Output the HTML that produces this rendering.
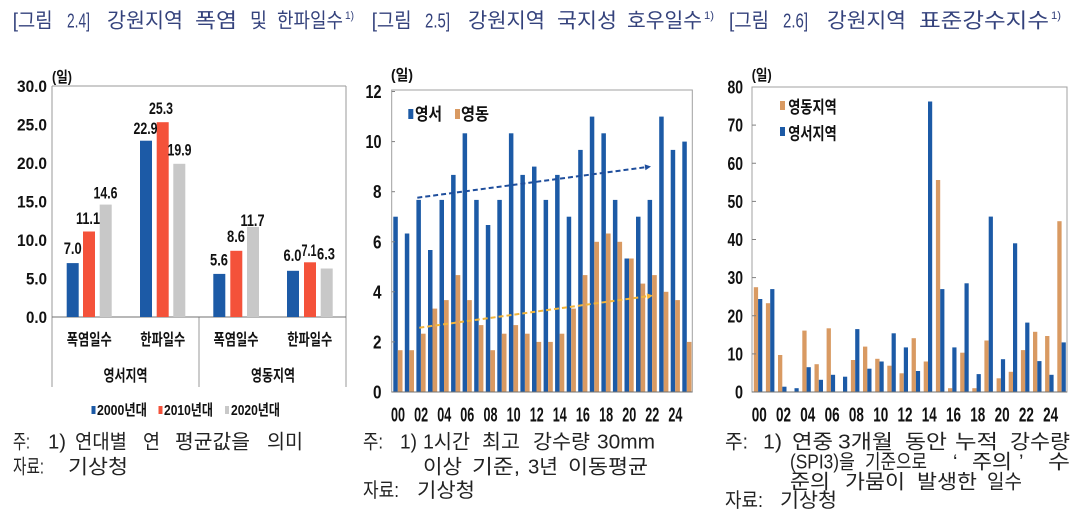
<!DOCTYPE html>
<html><head><meta charset="utf-8"><style>
html,body{margin:0;padding:0;background:#fff;}
svg{display:block;}
.t{font-family:"Liberation Sans","Noto Sans CJK KR",sans-serif;font-size:20.5px;fill:#34427c;}
.ts{font-family:"Liberation Sans","Noto Sans CJK KR",sans-serif;font-size:11px;fill:#34427c;}
.n{font-family:"Liberation Sans","Noto Sans CJK KR",sans-serif;font-size:20px;fill:#222;}
.b{font-family:"Liberation Sans Narrow","Liberation Sans","Noto Sans CJK KR",sans-serif;font-weight:bold;fill:#111;}
</style></head><body>
<svg width="1080" height="520" viewBox="0 0 1080 520" xmlns="http://www.w3.org/2000/svg">
<rect width="1080" height="520" fill="#fff"/>
<!-- Titles -->
<g class="t">
<text x="12.7" y="27.5" textLength="40" lengthAdjust="spacingAndGlyphs">[그림</text>
<text x="67" y="27.5" textLength="23" lengthAdjust="spacingAndGlyphs">2.4]</text>
<text x="107" y="27.5" textLength="76" lengthAdjust="spacingAndGlyphs">강원지역</text>
<text x="195" y="27.5" textLength="42" lengthAdjust="spacingAndGlyphs">폭염</text>
<text x="250" y="27.5" textLength="17" lengthAdjust="spacingAndGlyphs">및</text>
<text x="277" y="27.5" textLength="66" lengthAdjust="spacingAndGlyphs">한파일수</text>
<text x="371.7" y="27.5" textLength="40" lengthAdjust="spacingAndGlyphs">[그림</text>
<text x="425" y="27.5" textLength="25" lengthAdjust="spacingAndGlyphs">2.5]</text>
<text x="468" y="27.5" textLength="77" lengthAdjust="spacingAndGlyphs">강원지역</text>
<text x="557" y="27.5" textLength="60" lengthAdjust="spacingAndGlyphs">국지성</text>
<text x="627" y="27.5" textLength="75" lengthAdjust="spacingAndGlyphs">호우일수</text>
<text x="729" y="27.5" textLength="40" lengthAdjust="spacingAndGlyphs">[그림</text>
<text x="783" y="27.5" textLength="25" lengthAdjust="spacingAndGlyphs">2.6]</text>
<text x="827" y="27.5" textLength="79" lengthAdjust="spacingAndGlyphs">강원지역</text>
<text x="919" y="27.5" textLength="130" lengthAdjust="spacingAndGlyphs">표준강수지수</text>
</g>
<g class="ts">
<text x="345" y="19" textLength="9" lengthAdjust="spacingAndGlyphs">1)</text>
<text x="704" y="19" textLength="10" lengthAdjust="spacingAndGlyphs">1)</text>
<text x="1051" y="19" textLength="10" lengthAdjust="spacingAndGlyphs">1)</text>
</g>

<!-- ============ Chart 1 ============ -->
<g stroke="#9a9a9a" stroke-width="1" fill="none">
<line x1="52" y1="86" x2="346" y2="86"/>
<line x1="52" y1="86" x2="52" y2="387"/>
<line x1="346" y1="86" x2="346" y2="387"/>
<line x1="199" y1="317" x2="199" y2="387"/>
</g>
<line x1="52" y1="317" x2="346" y2="317" stroke="#707070" stroke-width="1"/>
<g>
<rect x="66.7" y="263.1" width="12" height="53.9" fill="#1c5aa6"/>
<rect x="83" y="231.5" width="12" height="85.5" fill="#f4523a"/>
<rect x="99.7" y="204.6" width="12" height="112.4" fill="#c8c8c8"/>
<rect x="140" y="140.7" width="12" height="176.3" fill="#1c5aa6"/>
<rect x="156.7" y="122.2" width="12" height="194.8" fill="#f4523a"/>
<rect x="173.3" y="163.8" width="12" height="153.2" fill="#c8c8c8"/>
<rect x="213.3" y="273.9" width="12" height="43.1" fill="#1c5aa6"/>
<rect x="230.3" y="250.8" width="12" height="66.2" fill="#f4523a"/>
<rect x="247" y="226.9" width="12" height="90.1" fill="#c8c8c8"/>
<rect x="287" y="270.8" width="12" height="46.2" fill="#1c5aa6"/>
<rect x="304" y="262.3" width="12" height="54.7" fill="#f4523a"/>
<rect x="320.7" y="268.5" width="12" height="48.5" fill="#c8c8c8"/>
</g>
<g class="b" font-size="17">
<text x="63.7" y="254" textLength="18" lengthAdjust="spacingAndGlyphs">7.0</text>
<text x="76" y="224" textLength="24" lengthAdjust="spacingAndGlyphs">11.1</text>
<text x="93.5" y="198.7" textLength="24" lengthAdjust="spacingAndGlyphs">14.6</text>
<text x="133.5" y="134" textLength="24" lengthAdjust="spacingAndGlyphs">22.9</text>
<text x="149" y="114" textLength="24" lengthAdjust="spacingAndGlyphs">25.3</text>
<text x="167.5" y="155.3" textLength="24" lengthAdjust="spacingAndGlyphs">19.9</text>
<text x="210" y="265.3" textLength="18" lengthAdjust="spacingAndGlyphs">5.6</text>
<text x="227" y="242" textLength="18" lengthAdjust="spacingAndGlyphs">8.6</text>
<text x="240.5" y="226" textLength="24" lengthAdjust="spacingAndGlyphs">11.7</text>
<text x="283.5" y="261" textLength="18" lengthAdjust="spacingAndGlyphs">6.0</text>
<text x="301.5" y="256" textLength="15" lengthAdjust="spacingAndGlyphs">7.1</text>
<text x="317" y="259.3" textLength="18" lengthAdjust="spacingAndGlyphs">6.3</text>
</g>
<g class="b" font-size="17">
<text x="17" y="92" textLength="30" lengthAdjust="spacingAndGlyphs">30.0</text>
<text x="17" y="130.5" textLength="30" lengthAdjust="spacingAndGlyphs">25.0</text>
<text x="17" y="169" textLength="30" lengthAdjust="spacingAndGlyphs">20.0</text>
<text x="17" y="207.5" textLength="30" lengthAdjust="spacingAndGlyphs">15.0</text>
<text x="17" y="246" textLength="30" lengthAdjust="spacingAndGlyphs">10.0</text>
<text x="26" y="284.5" textLength="21" lengthAdjust="spacingAndGlyphs">5.0</text>
<text x="26" y="323" textLength="21" lengthAdjust="spacingAndGlyphs">0.0</text>
</g>
<text class="b" font-size="15" x="52" y="82" textLength="20" lengthAdjust="spacingAndGlyphs">(일)</text>
<g class="b" font-size="16">
<text x="66.8" y="345" textLength="45" lengthAdjust="spacingAndGlyphs">폭염일수</text>
<text x="140.3" y="345" textLength="45" lengthAdjust="spacingAndGlyphs">한파일수</text>
<text x="213.5" y="345" textLength="45" lengthAdjust="spacingAndGlyphs">폭염일수</text>
<text x="287.3" y="345" textLength="45" lengthAdjust="spacingAndGlyphs">한파일수</text>
<text x="103.5" y="381" textLength="44" lengthAdjust="spacingAndGlyphs">영서지역</text>
<text x="251" y="381" textLength="44" lengthAdjust="spacingAndGlyphs">영동지역</text>
</g>
<rect x="91.5" y="406" width="4" height="8" fill="#1c5aa6"/>
<rect x="158.5" y="406" width="4" height="8" fill="#f4523a"/>
<rect x="225" y="406" width="4" height="8" fill="#c8c8c8"/>
<g class="b" font-size="15">
<text x="97" y="415" textLength="50" lengthAdjust="spacingAndGlyphs">2000년대</text>
<text x="164" y="415" textLength="49" lengthAdjust="spacingAndGlyphs">2010년대</text>
<text x="231" y="415" textLength="49" lengthAdjust="spacingAndGlyphs">2020년대</text>
</g>
<g class="n">
<text x="13" y="448.5" textLength="17" lengthAdjust="spacingAndGlyphs">주:</text>
<text x="48" y="448.5" textLength="18" lengthAdjust="spacingAndGlyphs">1)</text>
<text x="75" y="448.5" textLength="52" lengthAdjust="spacingAndGlyphs">연대별</text>
<text x="143" y="448.5" textLength="17" lengthAdjust="spacingAndGlyphs">연</text>
<text x="175" y="448.5" textLength="75" lengthAdjust="spacingAndGlyphs">평균값을</text>
<text x="267" y="448.5" textLength="36" lengthAdjust="spacingAndGlyphs">의미</text>
<text x="13" y="473.5" textLength="31" lengthAdjust="spacingAndGlyphs">자료:</text>
<text x="68" y="473.5" textLength="60" lengthAdjust="spacingAndGlyphs">기상청</text>
</g>

<!-- ============ Chart 2 ============ -->
<rect x="391.7" y="90" width="300.6" height="302" fill="none" stroke="#a0a0a0" stroke-width="1"/>
<g fill="#1c5aa6">
<rect x="393.3" y="216.7" width="4.5" height="175.3"/>
<rect x="404.8" y="233.5" width="4.5" height="158.5"/>
<rect x="416.4" y="199.9" width="4.5" height="192.1"/>
<rect x="428.0" y="250.0" width="4.5" height="142"/>
<rect x="439.5" y="199.9" width="4.5" height="192.1"/>
<rect x="451.1" y="174.9" width="4.5" height="217.1"/>
<rect x="462.6" y="133.3" width="4.5" height="258.7"/>
<rect x="474.2" y="199.9" width="4.5" height="192.1"/>
<rect x="485.8" y="225.0" width="4.5" height="167"/>
<rect x="497.3" y="199.9" width="4.5" height="192.1"/>
<rect x="508.9" y="133.3" width="4.5" height="258.7"/>
<rect x="520.4" y="174.9" width="4.5" height="217.1"/>
<rect x="532.0" y="166.6" width="4.5" height="225.4"/>
<rect x="543.6" y="199.9" width="4.5" height="192.1"/>
<rect x="555.1" y="174.9" width="4.5" height="217.1"/>
<rect x="566.7" y="216.7" width="4.5" height="175.3"/>
<rect x="578.2" y="149.9" width="4.5" height="242.1"/>
<rect x="589.8" y="116.6" width="4.5" height="275.4"/>
<rect x="601.4" y="133.3" width="4.5" height="258.7"/>
<rect x="612.9" y="199.9" width="4.5" height="192.1"/>
<rect x="624.5" y="258.5" width="4.5" height="133.5"/>
<rect x="636.0" y="216.7" width="4.5" height="175.3"/>
<rect x="647.6" y="199.9" width="4.5" height="192.1"/>
<rect x="659.2" y="116.6" width="4.5" height="275.4"/>
<rect x="670.7" y="149.9" width="4.5" height="242.1"/>
<rect x="682.3" y="141.6" width="4.5" height="250.4"/>
</g>
<g fill="#d99a62">
<rect x="397.8" y="350.2" width="4.7" height="41.8"/>
<rect x="409.3" y="350.2" width="4.7" height="41.8"/>
<rect x="420.9" y="333.7" width="4.7" height="58.3"/>
<rect x="432.5" y="308.6" width="4.7" height="83.4"/>
<rect x="444.0" y="300.1" width="4.7" height="91.9"/>
<rect x="455.6" y="275.1" width="4.7" height="116.9"/>
<rect x="467.1" y="300.1" width="4.7" height="91.9"/>
<rect x="478.7" y="325.1" width="4.7" height="66.9"/>
<rect x="490.3" y="350.2" width="4.7" height="41.8"/>
<rect x="501.8" y="333.7" width="4.7" height="58.3"/>
<rect x="513.4" y="325.1" width="4.7" height="66.9"/>
<rect x="524.9" y="333.7" width="4.7" height="58.3"/>
<rect x="536.5" y="341.9" width="4.7" height="50.1"/>
<rect x="548.1" y="341.9" width="4.7" height="50.1"/>
<rect x="559.6" y="333.7" width="4.7" height="58.3"/>
<rect x="571.2" y="308.6" width="4.7" height="83.4"/>
<rect x="582.7" y="275.1" width="4.7" height="116.9"/>
<rect x="594.3" y="241.8" width="4.7" height="150.2"/>
<rect x="605.9" y="233.5" width="4.7" height="158.5"/>
<rect x="617.4" y="241.8" width="4.7" height="150.2"/>
<rect x="629.0" y="258.5" width="4.7" height="133.5"/>
<rect x="640.5" y="283.6" width="4.7" height="108.4"/>
<rect x="652.1" y="275.1" width="4.7" height="116.9"/>
<rect x="663.7" y="291.8" width="4.7" height="100.2"/>
<rect x="675.2" y="300.1" width="4.7" height="91.9"/>
<rect x="686.8" y="341.9" width="4.7" height="50.1"/>
</g>
<line x1="391.7" y1="392" x2="692.3" y2="392" stroke="#707070" stroke-width="1"/>
<g stroke="#808080" stroke-width="1">
<line x1="391.7" y1="91.5" x2="395" y2="91.5"/><line x1="391.7" y1="141.6" x2="395" y2="141.6"/>
<line x1="391.7" y1="191.7" x2="395" y2="191.7"/><line x1="391.7" y1="241.8" x2="395" y2="241.8"/>
<line x1="391.7" y1="291.8" x2="395" y2="291.8"/><line x1="391.7" y1="341.9" x2="395" y2="341.9"/>
</g>
<line x1="417.3" y1="197.7" x2="645" y2="167.3" stroke="#1f4e9c" stroke-width="2" stroke-dasharray="5,3"/>
<polygon points="651,166.5 645.45,170.26 644.65,164.32" fill="#1f4e9c"/>
<line x1="419.3" y1="327.7" x2="647" y2="296.3" stroke="#f2b53a" stroke-width="2" stroke-dasharray="5,3"/>
<polygon points="653,295.5 647.47,299.29 646.65,293.35" fill="#f2b53a"/>
<g class="b" font-size="18">
<text x="365.5" y="98" textLength="16" lengthAdjust="spacingAndGlyphs">12</text>
<text x="365.5" y="148.1" textLength="16" lengthAdjust="spacingAndGlyphs">10</text>
<text x="373" y="198.2" textLength="8.5" lengthAdjust="spacingAndGlyphs">8</text>
<text x="373" y="248.3" textLength="8.5" lengthAdjust="spacingAndGlyphs">6</text>
<text x="373" y="298.3" textLength="8.5" lengthAdjust="spacingAndGlyphs">4</text>
<text x="373" y="348.4" textLength="8.5" lengthAdjust="spacingAndGlyphs">2</text>
<text x="373" y="398.5" textLength="8.5" lengthAdjust="spacingAndGlyphs">0</text>
</g>
<text class="b" font-size="15" x="391" y="80" textLength="22" lengthAdjust="spacingAndGlyphs">(일)</text>
<g class="b" font-size="20">
<text x="391" y="421.5" textLength="14" lengthAdjust="spacingAndGlyphs">00</text>
<text x="414.1" y="421.5" textLength="14" lengthAdjust="spacingAndGlyphs">02</text>
<text x="437.2" y="421.5" textLength="14" lengthAdjust="spacingAndGlyphs">04</text>
<text x="460.3" y="421.5" textLength="14" lengthAdjust="spacingAndGlyphs">06</text>
<text x="483.5" y="421.5" textLength="14" lengthAdjust="spacingAndGlyphs">08</text>
<text x="506.6" y="421.5" textLength="14" lengthAdjust="spacingAndGlyphs">10</text>
<text x="529.7" y="421.5" textLength="14" lengthAdjust="spacingAndGlyphs">12</text>
<text x="552.8" y="421.5" textLength="14" lengthAdjust="spacingAndGlyphs">14</text>
<text x="575.9" y="421.5" textLength="14" lengthAdjust="spacingAndGlyphs">16</text>
<text x="599.1" y="421.5" textLength="14" lengthAdjust="spacingAndGlyphs">18</text>
<text x="622.2" y="421.5" textLength="14" lengthAdjust="spacingAndGlyphs">20</text>
<text x="645.3" y="421.5" textLength="14" lengthAdjust="spacingAndGlyphs">22</text>
<text x="668.4" y="421.5" textLength="14" lengthAdjust="spacingAndGlyphs">24</text>
</g>
<rect x="408.3" y="109" width="5" height="10" fill="#1c5aa6"/>
<rect x="455" y="109" width="5" height="10" fill="#d99a62"/>
<g class="b" font-size="17">
<text x="415" y="120" textLength="27" lengthAdjust="spacingAndGlyphs">영서</text>
<text x="461" y="120" textLength="28" lengthAdjust="spacingAndGlyphs">영동</text>
</g>
<g class="n">
<text x="363" y="448.5" textLength="20" lengthAdjust="spacingAndGlyphs">주:</text>
<text x="400" y="448.5" textLength="17" lengthAdjust="spacingAndGlyphs">1)</text>
<text x="423" y="448.5" textLength="47" lengthAdjust="spacingAndGlyphs">1시간</text>
<text x="482" y="448.5" textLength="38" lengthAdjust="spacingAndGlyphs">최고</text>
<text x="533" y="448.5" textLength="57" lengthAdjust="spacingAndGlyphs">강수량</text>
<text x="597" y="448.5" textLength="58" lengthAdjust="spacingAndGlyphs">30mm</text>
<text x="423" y="473.5" textLength="39" lengthAdjust="spacingAndGlyphs">이상</text>
<text x="472" y="473.5" textLength="48" lengthAdjust="spacingAndGlyphs">기준,</text>
<text x="528" y="473.5" textLength="30" lengthAdjust="spacingAndGlyphs">3년</text>
<text x="568" y="473.5" textLength="80" lengthAdjust="spacingAndGlyphs">이동평균</text>
<text x="363" y="497" textLength="36" lengthAdjust="spacingAndGlyphs">자료:</text>
<text x="417" y="497" textLength="58" lengthAdjust="spacingAndGlyphs">기상청</text>
</g>

<!-- ============ Chart 3 ============ -->
<rect x="752" y="87" width="315" height="305" fill="none" stroke="#a0a0a0" stroke-width="1"/>
<g fill="#d99a62">
<rect x="753.8" y="287.2" width="4.3" height="104.8"/>
<rect x="765.9" y="303.2" width="4.3" height="88.8"/>
<rect x="778.0" y="355.0" width="4.3" height="37"/>
<rect x="802.3" y="330.6" width="4.3" height="61.4"/>
<rect x="814.5" y="364.2" width="4.3" height="27.8"/>
<rect x="826.6" y="328.3" width="4.3" height="63.7"/>
<rect x="850.9" y="360.0" width="4.3" height="32"/>
<rect x="863.0" y="346.6" width="4.3" height="45.4"/>
<rect x="875.2" y="358.8" width="4.3" height="33.2"/>
<rect x="887.3" y="365.7" width="4.3" height="26.3"/>
<rect x="899.5" y="373.3" width="4.3" height="18.7"/>
<rect x="911.6" y="338.2" width="4.3" height="53.8"/>
<rect x="923.7" y="361.5" width="4.3" height="30.5"/>
<rect x="935.9" y="180.0" width="4.3" height="212"/>
<rect x="948.0" y="388.2" width="4.3" height="3.8"/>
<rect x="960.2" y="352.7" width="4.3" height="39.3"/>
<rect x="972.3" y="388.2" width="4.3" height="3.8"/>
<rect x="984.4" y="340.5" width="4.3" height="51.5"/>
<rect x="996.6" y="378.3" width="4.3" height="13.7"/>
<rect x="1008.7" y="371.8" width="4.3" height="20.2"/>
<rect x="1020.9" y="350.1" width="4.3" height="41.9"/>
<rect x="1033.0" y="331.8" width="4.3" height="60.2"/>
<rect x="1045.1" y="336.0" width="4.3" height="56"/>
<rect x="1057.3" y="221.2" width="4.3" height="170.8"/>
</g>
<g fill="#1c5aa6">
<rect x="758.1" y="299.0" width="4.2" height="93"/>
<rect x="770.2" y="289.1" width="4.2" height="102.9"/>
<rect x="782.3" y="386.7" width="4.2" height="5.3"/>
<rect x="794.5" y="388.2" width="4.2" height="3.8"/>
<rect x="806.6" y="367.2" width="4.2" height="24.8"/>
<rect x="818.8" y="379.8" width="4.2" height="12.2"/>
<rect x="830.9" y="374.8" width="4.2" height="17.2"/>
<rect x="843.0" y="376.7" width="4.2" height="15.3"/>
<rect x="855.2" y="329.1" width="4.2" height="62.9"/>
<rect x="867.3" y="368.7" width="4.2" height="23.3"/>
<rect x="879.5" y="361.5" width="4.2" height="30.5"/>
<rect x="891.6" y="333.3" width="4.2" height="58.7"/>
<rect x="903.8" y="347.4" width="4.2" height="44.6"/>
<rect x="915.9" y="371.0" width="4.2" height="21"/>
<rect x="928.0" y="101.5" width="4.2" height="290.5"/>
<rect x="940.2" y="289.1" width="4.2" height="102.9"/>
<rect x="952.3" y="347.4" width="4.2" height="44.6"/>
<rect x="964.5" y="283.3" width="4.2" height="108.7"/>
<rect x="976.6" y="374.1" width="4.2" height="17.9"/>
<rect x="988.7" y="216.6" width="4.2" height="175.4"/>
<rect x="1000.9" y="359.2" width="4.2" height="32.8"/>
<rect x="1013.0" y="243.3" width="4.2" height="148.7"/>
<rect x="1025.2" y="322.6" width="4.2" height="69.4"/>
<rect x="1037.3" y="361.1" width="4.2" height="30.9"/>
<rect x="1049.4" y="374.8" width="4.2" height="17.2"/>
<rect x="1061.6" y="342.4" width="4.2" height="49.6"/>
</g>
<line x1="752" y1="392" x2="1067" y2="392" stroke="#707070" stroke-width="1"/>
<g stroke="#808080" stroke-width="1">
<line x1="752" y1="125.1" x2="756" y2="125.1"/><line x1="752" y1="163.25" x2="756" y2="163.25"/>
<line x1="752" y1="201.4" x2="756" y2="201.4"/><line x1="752" y1="239.5" x2="756" y2="239.5"/>
<line x1="752" y1="277.6" x2="756" y2="277.6"/><line x1="752" y1="315.75" x2="756" y2="315.75"/>
<line x1="752" y1="353.9" x2="756" y2="353.9"/>
</g>
<g class="b" font-size="18">
<text x="727.5" y="93.5" textLength="15.5" lengthAdjust="spacingAndGlyphs">80</text>
<text x="727.5" y="131.6" textLength="15.5" lengthAdjust="spacingAndGlyphs">70</text>
<text x="727.5" y="169.75" textLength="15.5" lengthAdjust="spacingAndGlyphs">60</text>
<text x="727.5" y="207.9" textLength="15.5" lengthAdjust="spacingAndGlyphs">50</text>
<text x="727.5" y="246" textLength="15.5" lengthAdjust="spacingAndGlyphs">40</text>
<text x="727.5" y="284.1" textLength="15.5" lengthAdjust="spacingAndGlyphs">30</text>
<text x="727.5" y="322.25" textLength="15.5" lengthAdjust="spacingAndGlyphs">20</text>
<text x="727.5" y="360.4" textLength="15.5" lengthAdjust="spacingAndGlyphs">10</text>
<text x="735" y="398.5" textLength="8" lengthAdjust="spacingAndGlyphs">0</text>
</g>
<text class="b" font-size="15" x="751.7" y="80" textLength="20" lengthAdjust="spacingAndGlyphs">(일)</text>
<g class="b" font-size="20">
<text x="751.8" y="421.5" textLength="15" lengthAdjust="spacingAndGlyphs">00</text>
<text x="776.0" y="421.5" textLength="15" lengthAdjust="spacingAndGlyphs">02</text>
<text x="800.3" y="421.5" textLength="15" lengthAdjust="spacingAndGlyphs">04</text>
<text x="824.6" y="421.5" textLength="15" lengthAdjust="spacingAndGlyphs">06</text>
<text x="848.9" y="421.5" textLength="15" lengthAdjust="spacingAndGlyphs">08</text>
<text x="873.2" y="421.5" textLength="15" lengthAdjust="spacingAndGlyphs">10</text>
<text x="897.5" y="421.5" textLength="15" lengthAdjust="spacingAndGlyphs">12</text>
<text x="921.7" y="421.5" textLength="15" lengthAdjust="spacingAndGlyphs">14</text>
<text x="946.0" y="421.5" textLength="15" lengthAdjust="spacingAndGlyphs">16</text>
<text x="970.3" y="421.5" textLength="15" lengthAdjust="spacingAndGlyphs">18</text>
<text x="994.6" y="421.5" textLength="15" lengthAdjust="spacingAndGlyphs">20</text>
<text x="1018.9" y="421.5" textLength="15" lengthAdjust="spacingAndGlyphs">22</text>
<text x="1043.1" y="421.5" textLength="15" lengthAdjust="spacingAndGlyphs">24</text>
</g>
<rect x="780" y="101" width="5" height="9" fill="#d99a62"/>
<rect x="780" y="127" width="5" height="9" fill="#1c5aa6"/>
<g class="b" font-size="17">
<text x="788.3" y="113" textLength="48.5" lengthAdjust="spacingAndGlyphs">영동지역</text>
<text x="788.3" y="139.5" textLength="48.5" lengthAdjust="spacingAndGlyphs">영서지역</text>
</g>
<g class="n">
<text x="725" y="448.5" textLength="23" lengthAdjust="spacingAndGlyphs">주:</text>
<text x="763" y="448.5" textLength="19" lengthAdjust="spacingAndGlyphs">1)</text>
<text x="792" y="448.5" textLength="41" lengthAdjust="spacingAndGlyphs">연중</text>
<text x="838" y="448.5" textLength="55" lengthAdjust="spacingAndGlyphs">3개월</text>
<text x="905" y="448.5" textLength="42" lengthAdjust="spacingAndGlyphs">동안</text>
<text x="955" y="448.5" textLength="43" lengthAdjust="spacingAndGlyphs">누적</text>
<text x="1010" y="448.5" textLength="60" lengthAdjust="spacingAndGlyphs">강수량</text>
<text x="790" y="468.5" textLength="65" lengthAdjust="spacingAndGlyphs">(SPI3)을</text>
<text x="865" y="468.5" textLength="62" lengthAdjust="spacingAndGlyphs">기준으로</text>
<text x="953" y="468.5">‘</text>
<text x="972" y="468.5" textLength="40" lengthAdjust="spacingAndGlyphs">주의</text>
<text x="1019" y="468.5">’</text>
<text x="1048" y="468.5" textLength="22" lengthAdjust="spacingAndGlyphs">수</text>
<text x="790" y="488.5" textLength="40" lengthAdjust="spacingAndGlyphs">준의</text>
<text x="845" y="488.5" textLength="60" lengthAdjust="spacingAndGlyphs">가뭄이</text>
<text x="917" y="488.5" textLength="60" lengthAdjust="spacingAndGlyphs">발생한</text>
<text x="987" y="488.5" textLength="35" lengthAdjust="spacingAndGlyphs">일수</text>
<text x="725" y="507" textLength="38" lengthAdjust="spacingAndGlyphs">자료:</text>
<text x="780" y="507" textLength="57" lengthAdjust="spacingAndGlyphs">기상청</text>
</g>
</svg>
</body></html>
